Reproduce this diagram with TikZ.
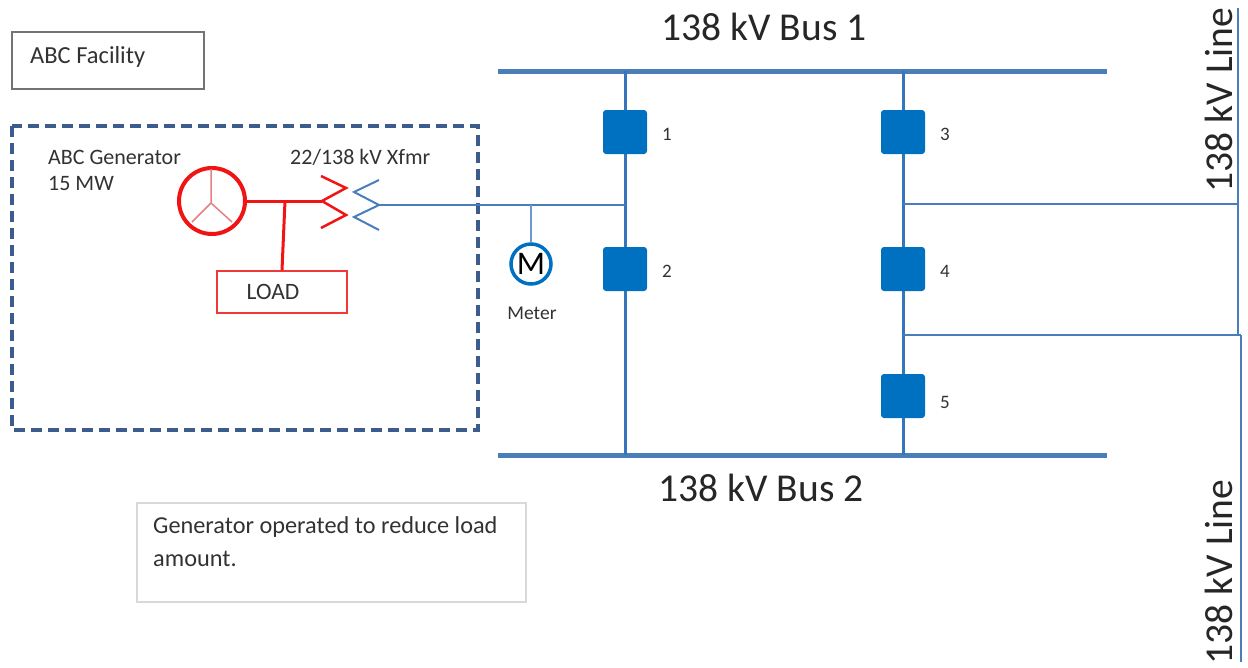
\documentclass[tikz,border=0pt]{standalone}
\usepackage{fontspec}
\setmainfont{Carlito}
\definecolor{busblue}{RGB}{74,126,187}
\definecolor{colblue}{RGB}{52,117,190}
\definecolor{brkblue}{RGB}{0,112,192}
\definecolor{dashblue}{RGB}{59,92,140}
\definecolor{genred}{RGB}{240,20,20}
\definecolor{spokered}{RGB}{232,128,128}
\definecolor{txt}{RGB}{50,50,50}
\tikzset{
  bus/.style={draw=busblue,line width=5pt},
  colline/.style={draw=colblue,line width=3pt},
  feeder/.style={draw=busblue,line width=2.5pt},
  breaker/.style={rectangle,fill=brkblue,minimum size=44pt,inner sep=0pt,rounded corners=3pt},
  brklabel/.style={text=txt,font=\fontsize{19}{19}\selectfont},
  buslabel/.style={text=black!85,font=\fontsize{39.5}{39.5}\selectfont},
  small/.style={text=txt,font=\fontsize{22}{26}\selectfont},
}
\begin{document}
\begin{tikzpicture}[x=1pt,y=-1pt]
\useasboundingbox (0,0) rectangle (1248,667);
% ABC Facility box
\node[draw=black!55,line width=2pt,minimum width=192pt,minimum height=57pt,inner sep=0pt] (fac) at (108,60.5) {};
\node[anchor=west,text=txt,font=\fontsize{24.5}{24.5}\selectfont,inner sep=0pt] (factxt) at (30,57) {ABC Facility};
% dashed facility boundary
\draw[dashblue,line width=3.5pt,dash pattern=on 11pt off 6pt] (12,126) rectangle (478,430);
% generator
\node[small,anchor=west,align=left,inner sep=0pt] (gentxt) at (48,170) {ABC Generator\\15 MW};
\node[small,anchor=west,inner sep=0pt] (xftxt) at (290,157) {22/138 kV Xfmr};
\node[circle,draw=genred,line width=4pt,minimum size=66pt,inner sep=0pt] (gen) at (212,201) {};
\coordinate (gc) at (211,203);
\draw[spokered,line width=1.5pt] (gc) -- (211,169) (gc) -- (192,222) (gc) -- (232,222);
\coordinate (xr) at (322,201);
\coordinate (lj) at (285,201);
\draw[genred,line width=3pt] (gen) -- (xr);
\node[draw=genred!85,line width=1.5pt,minimum width=130pt,minimum height=42pt,inner sep=0pt,text=black!80,font=\fontsize{23.5}{23.5}\selectfont] (load) at (282,292) {LOAD\kern18pt};
\draw[genred,line width=3pt] (lj) -- (load.north);
% transformer
\draw[genred,line width=2.5pt] (321,176) -- (346,188) -- (xr) -- (346,215) -- (321,228);
\coordinate (xb) at (379,205);
\draw[busblue,line width=2pt] (379,180) -- (354,192) -- (xb) -- (354,217) -- (379,230);
% bus 1 and bus 2
\coordinate (b1l) at (498,71); \coordinate (b1r) at (1107,71);
\coordinate (b2l) at (498,455); \coordinate (b2r) at (1107,455);
\draw[bus] (b1l) -- (b1r);
\draw[bus] (b2l) -- (b2r);
\node[buslabel] (bus1txt) at (764,27) {138 kV Bus 1};
\node[buslabel] (bus2txt) at (761,488) {138 kV Bus 2};
% columns
\coordinate (c1t) at (625,71); \coordinate (c1b) at (625,455);
\coordinate (c2t) at (903,71); \coordinate (c2b) at (903,455);
\coordinate (j1) at (625,205);
\coordinate (j3) at (903,204);
\coordinate (j4) at (903,335);
\draw[colline] (c1t) -- (c1b);
\draw[colline] (c2t) -- (c2b);
\node[breaker] (brk1) at (625,132) {};
\node[breaker] (brk2) at (625,269) {};
\node[breaker] (brk3) at (903,132) {};
\node[breaker] (brk4) at (903,269) {};
\node[breaker] (brk5) at (903,396) {};
\node[brklabel] (l1) at (667,134) {1};
\node[brklabel] (l2) at (667,271) {2};
\node[brklabel] (l3) at (945,134) {3};
\node[brklabel] (l4) at (945,271) {4};
\node[brklabel] (l5) at (945,402) {5};
% generator tie line and meter
\draw[busblue,line width=2pt] (xb) -- (j1);
\coordinate (mj) at (531,205);
\node[circle,draw=brkblue,line width=3.5pt,minimum size=40pt,inner sep=0pt,font=\fontsize{33}{33}\selectfont] (meter) at (531,264) {M};
\draw[busblue!80,line width=1.5pt] (mj) -- (meter.north);
\node[text=txt,font=\fontsize{19.5}{19.5}\selectfont] (metertxt) at (532,313) {Meter};
% 138 kV lines
\coordinate (la1) at (1238,8); \coordinate (la2) at (1238,204); \coordinate (la3) at (1238,335);
\coordinate (lb1) at (1241,335); \coordinate (lb2) at (1241,662);
\draw[feeder] (j3) -- (la2);
\draw[feeder] (j4) -- (lb1);
\draw[feeder] (la1) -- (la3);
\draw[feeder] (lb1) -- (lb2);
\node[buslabel,rotate=90] (linetxt1) at (1219,100) {138 kV Line};
\node[buslabel,rotate=90] (linetxt2) at (1219,572) {138 kV Line};
% note
\node[draw=black!15,line width=1.5pt,minimum width=389pt,minimum height=99pt,inner sep=0pt] (note) at (331.5,552.5) {};
\node[anchor=north west,align=left,text=txt,font=\fontsize{24.3}{33}\selectfont,inner sep=0pt] (notetxt) at (153,516) {Generator operated to reduce load\\amount.};
\end{tikzpicture}
\end{document}
